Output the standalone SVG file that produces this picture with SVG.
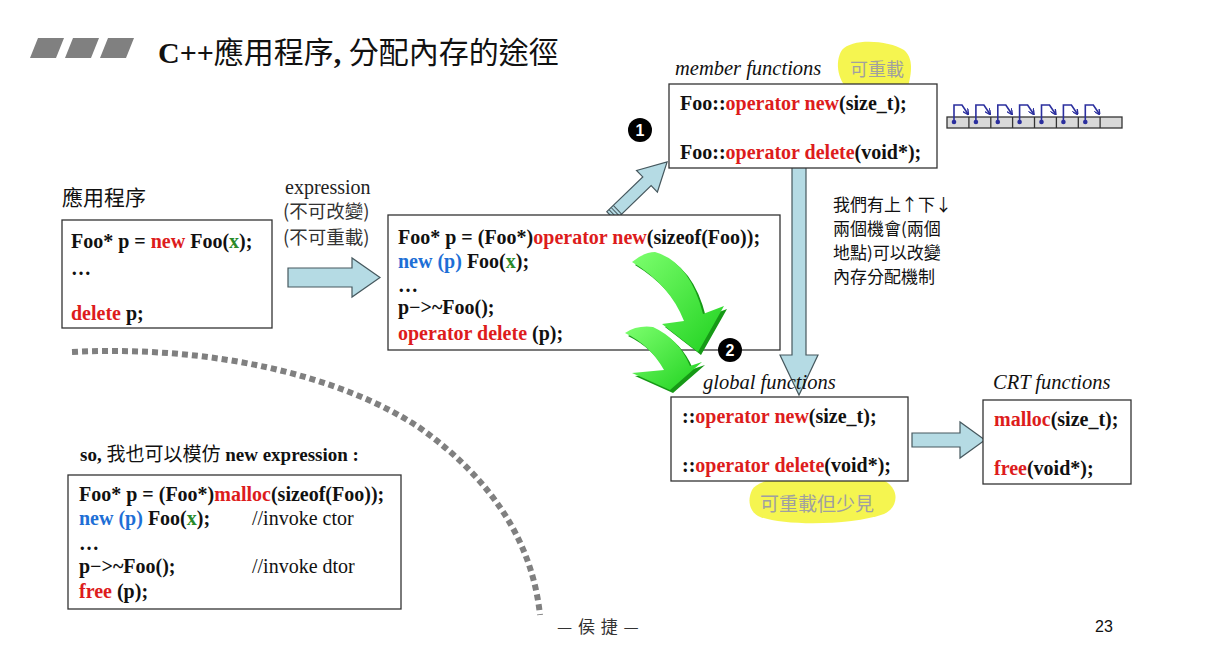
<svg xmlns="http://www.w3.org/2000/svg" width="1212" height="668" viewBox="0 0 1212 668">
<defs>
<style>
.code{font-family:"Liberation Serif","Noto Sans CJK TC",serif;font-weight:bold;font-size:20px;fill:#111}
.r{fill:#dd1c1c}
.b{fill:#1e6fd6}
.g{fill:#2a8a2a}
.cm{font-weight:normal}
.box{fill:#fff;stroke:#333;stroke-width:1.3}
.lab{font-family:"Liberation Serif",serif;font-style:italic;font-size:20.5px;fill:#111}
.cjk{font-family:"Noto Sans CJK TC","Liberation Sans",sans-serif;fill:#111}
.blue{fill:#b5dbe4;stroke:#46585e;stroke-width:1.2}
.ptr{stroke:#2b2f9e;stroke-width:1.6;fill:none}
</style>
<linearGradient id="gg" x1="0" y1="0" x2="1" y2="1">
<stop offset="0" stop-color="#7dff6e"/>
<stop offset="1" stop-color="#1fd11f"/>
</linearGradient>
<marker id="ah" markerWidth="6" markerHeight="6" refX="5" refY="3" orient="auto" markerUnits="userSpaceOnUse">
<path d="M0,0 L6,3 L0,6" fill="none" stroke="#2b2f9e" stroke-width="1.4"/>
</marker>
</defs>
<rect width="1212" height="668" fill="#fff"/>

<g id="title">
<polygon points="38,38 64,38 56,58 30,58" fill="#808080"/>
<polygon points="73,38 99,38 91,58 65,58" fill="#808080"/>
<polygon points="108,38 134,38 126,58 100,58" fill="#808080"/>
<text x="158" y="63" font-size="30" class="cjk"><tspan font-family="Liberation Serif,serif" font-weight="bold">C++</tspan>應用程序<tspan font-family="Liberation Serif,serif" font-weight="bold">, </tspan>分配內存的途徑</text>
</g>

<g id="highlights">
<path d="M842,50 C852,38 888,40 904,50 C916,60 910,80 906,94 C900,104 870,102 852,92 C838,84 834,62 842,50 Z" fill="#f3f331" opacity="0.85"/>
<path d="M752,490 C760,474 820,474 870,476 C900,480 902,506 884,514 C850,526 780,526 758,516 C748,510 748,498 752,490 Z" fill="#f3f331" opacity="0.85"/>
</g>

<g id="connectors">
<path class="blue" d="M288,268 L352,268 L352,258 L380,277.5 L352,297 L352,287 L288,287 Z"/>
<path class="blue" d="M912,433 L960,433 L960,422 L985,440 L960,458 L960,447 L912,447 Z"/>
<path class="blue" d="M792,158 L806,158 L806,355 L818,355 L799,395 L780,355 L792,355 Z"/>
<g transform="translate(611,216) rotate(-44)">
<path class="blue" d="M0,-6 L50,-6 L50,-15 L78,0 L50,15 L50,6 L0,6 Z"/>
<line x1="3" y1="-6" x2="3" y2="6" stroke="#46585e"/>
<line x1="6" y1="-6" x2="6" y2="6" stroke="#46585e"/>
<line x1="9" y1="-6" x2="9" y2="6" stroke="#46585e"/>
</g>
<g transform="translate(490,333) rotate(-36)">
<path class="blue" d="M0,-6 L82,-6 L82,-15 L110,0 L82,15 L82,6 L0,6 Z"/>
<line x1="3" y1="-6" x2="3" y2="6" stroke="#46585e"/>
<line x1="6" y1="-6" x2="6" y2="6" stroke="#46585e"/>
<line x1="9" y1="-6" x2="9" y2="6" stroke="#46585e"/>
</g>
<path d="M72,352 C210,345 340,375 420,428 C490,478 532,540 540,615" fill="none" stroke="#808080" stroke-width="6" stroke-dasharray="6 4"/>
</g>

<g id="member">
<text x="675" y="75" class="lab">member functions</text>
<text x="850" y="76" font-family="Liberation Serif,Noto Sans CJK TC,serif" font-size="18" fill="#a0a0a0">可重載</text>
<rect class="box" x="669" y="84" width="268" height="84"/>
<text x="680" y="110" class="code">Foo::<tspan class="r">operator new</tspan>(size_t);</text>
<text x="680" y="159" class="code">Foo::<tspan class="r">operator delete</tspan>(void*);</text>
</g>

<g id="memory">
<rect x="947" y="117" width="175" height="11" fill="#d9d9d9" stroke="#333" stroke-width="1.3"/>
<g stroke="#333" stroke-width="1.3">
<line x1="968.9" y1="117" x2="968.9" y2="128"/><line x1="990.8" y1="117" x2="990.8" y2="128"/>
<line x1="1012.6" y1="117" x2="1012.6" y2="128"/><line x1="1034.5" y1="117" x2="1034.5" y2="128"/>
<line x1="1056.4" y1="117" x2="1056.4" y2="128"/><line x1="1078.3" y1="117" x2="1078.3" y2="128"/>
<line x1="1100.1" y1="117" x2="1100.1" y2="128"/>
</g>
<g id="ptrs">
<g transform="translate(0,0)"><circle cx="954" cy="122" r="2.3" fill="#2b2f9e"/><path class="ptr" d="M954,122 L954,105 L962,105 L968,114" marker-end="url(#ah)"/></g>
<g transform="translate(21.9,0)"><circle cx="954" cy="122" r="2.3" fill="#2b2f9e"/><path class="ptr" d="M954,122 L954,105 L962,105 L968,114" marker-end="url(#ah)"/></g>
<g transform="translate(43.8,0)"><circle cx="954" cy="122" r="2.3" fill="#2b2f9e"/><path class="ptr" d="M954,122 L954,105 L962,105 L968,114" marker-end="url(#ah)"/></g>
<g transform="translate(65.6,0)"><circle cx="954" cy="122" r="2.3" fill="#2b2f9e"/><path class="ptr" d="M954,122 L954,105 L962,105 L968,114" marker-end="url(#ah)"/></g>
<g transform="translate(87.5,0)"><circle cx="954" cy="122" r="2.3" fill="#2b2f9e"/><path class="ptr" d="M954,122 L954,105 L962,105 L968,114" marker-end="url(#ah)"/></g>
<g transform="translate(109.4,0)"><circle cx="954" cy="122" r="2.3" fill="#2b2f9e"/><path class="ptr" d="M954,122 L954,105 L962,105 L968,114" marker-end="url(#ah)"/></g>
<g transform="translate(131.3,0)"><circle cx="954" cy="122" r="2.3" fill="#2b2f9e"/><path class="ptr" d="M954,122 L954,105 L962,105 L968,114" marker-end="url(#ah)"/></g>
</g>
</g>

<g id="badge1">
<circle cx="640" cy="130" r="12" fill="#000"/>
<text x="640" y="136" text-anchor="middle" font-family="Liberation Sans,sans-serif" font-weight="bold" font-size="16" fill="#fff">1</text>
</g>

<g id="app">
<text x="62" y="205" class="cjk" font-size="21">應用程序</text>
<rect class="box" x="62" y="220" width="210" height="108"/>
<text x="71" y="248" class="code">Foo* p = <tspan class="r">new</tspan> Foo(<tspan class="g">x</tspan>);</text>
<text x="71" y="275" class="code">…</text>
<text x="71" y="320" class="code"><tspan class="r">delete</tspan> p;</text>
</g>

<g id="expr-label">
<text x="285" y="194" font-family="Liberation Serif,serif" font-size="20" fill="#222">expression</text>
<text x="283" y="218" class="cjk" font-size="18.5" style="fill:#333">(不可改變)</text>
<text x="283" y="244" class="cjk" font-size="18.5" style="fill:#333">(不可重載)</text>
</g>

<g id="expansion">
<rect class="box" x="388" y="215" width="392" height="135" fill="none"/>
<text x="398" y="244" class="code">Foo* p = (Foo*)<tspan class="r">operator new</tspan>(sizeof(Foo));</text>
<text x="398" y="268" class="code"><tspan class="b">new (p)</tspan> Foo(<tspan class="g">x</tspan>);</text>
<text x="398" y="292" class="code">…</text>
<text x="398" y="314" class="code">p−&gt;~Foo();</text>
<text x="398" y="340" class="code"><tspan class="r">operator delete</tspan> (p);</text>
</g>

<g id="green-arrows">
<path d="M635,265 Q647,255 658,255 Q693,265 706,317 L727,309 L701,355 L665,327 L687,324 Q673,288 635,265 Z" fill="#169916"/>
<path d="M632,262 Q644,252 655,252 Q690,262 703,314 L724,306 L698,352 L662,324 L684,321 Q670,285 632,262 Z" fill="url(#gg)"/>
<path d="M628,336 Q640,328 656,330 Q682,342 693,369 L705,365 L673,393 L635,376 L667,373 Q653,348 628,336 Z" fill="#169916"/>
<path d="M625,333 Q637,325 653,327 Q679,339 690,366 L702,362 L670,390 L632,373 L664,370 Q650,345 625,333 Z" fill="url(#gg)"/>
</g>

<g id="badge2">
<circle cx="730" cy="350" r="12" fill="#000"/>
<text x="730" y="356" text-anchor="middle" font-family="Liberation Sans,sans-serif" font-weight="bold" font-size="16" fill="#fff">2</text>
</g>

<g id="note">
<text class="cjk" font-size="17"><tspan x="833" y="211">我們有上↑下↓</tspan><tspan x="833" y="235">兩個機會(兩個</tspan><tspan x="833" y="259">地點)可以改變</tspan><tspan x="833" y="283">內存分配機制</tspan></text>
</g>

<g id="global">
<text x="703" y="389" class="lab">global functions</text>
<rect class="box" x="671" y="397" width="237" height="84"/>
<text x="682" y="423" class="code">::<tspan class="r">operator new</tspan>(size_t);</text>
<text x="682" y="472" class="code">::<tspan class="r">operator delete</tspan>(void*);</text>
<text x="760" y="511" font-family="Liberation Serif,Noto Sans CJK TC,serif" font-size="19" fill="#a0a0a0">可重載但少見</text>
</g>

<g id="crt">
<text x="993" y="389" class="lab">CRT functions</text>
<rect class="box" x="983" y="400" width="148" height="84"/>
<text x="994" y="426" class="code"><tspan class="r">malloc</tspan>(size_t);</text>
<text x="994" y="475" class="code"><tspan class="r">free</tspan>(void*);</text>
</g>

<g id="mimic">
<text x="80" y="461" class="code" style="font-size:19px">so, <tspan font-family="Noto Sans CJK TC,sans-serif" font-weight="normal">我也可以模仿</tspan> new expression :</text>
<rect class="box" x="68" y="475" width="333" height="134"/>
<text x="79" y="501" class="code">Foo* p = (Foo*)<tspan class="r">malloc</tspan>(sizeof(Foo));</text>
<text x="79" y="525" class="code"><tspan class="b">new (p)</tspan> Foo(<tspan class="g">x</tspan>);</text>
<text x="252" y="525" class="code cm">//invoke ctor</text>
<text x="79" y="550" class="code">…</text>
<text x="79" y="573" class="code">p−&gt;~Foo();</text>
<text x="252" y="573" class="code cm">//invoke dtor</text>
<text x="79" y="598" class="code"><tspan class="r">free</tspan> (p);</text>
</g>

<g id="footer">
<text x="557" y="633" class="cjk" font-size="17" letter-spacing="1" style="fill:#333">— 侯 捷 —</text>
<text x="1095" y="632" font-family="Liberation Sans,sans-serif" font-size="16" fill="#111">23</text>
</g>
</svg>
